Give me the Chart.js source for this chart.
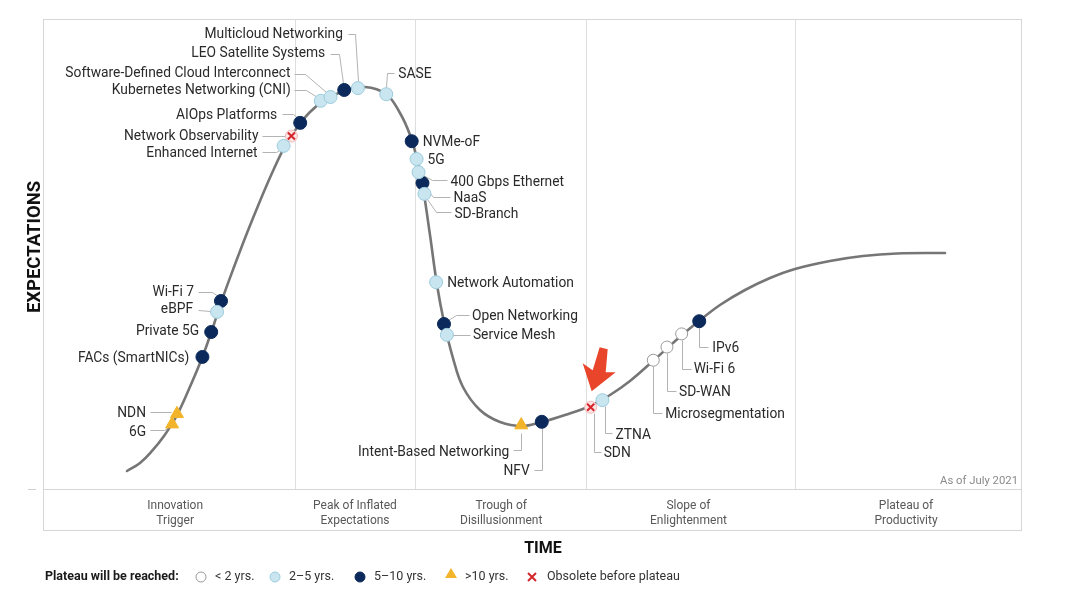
<!DOCTYPE html>
<html><head><meta charset="utf-8">
<script src="https://cdn.jsdelivr.net/npm/chart.js@4.4.1/dist/chart.umd.min.js"></script>
<style>html,body{margin:0;padding:0;background:#fff}canvas{display:block}</style>
</head><body>
<canvas id="c" width="1080" height="606"></canvas>
<script>
// ---- DATA (time / expectations units, 0-100) ----
const curveX = [8.59,9.92,11.15,12.37,13.60,14.93,16.26,17.28,18.30,19.53,20.86,22.19,23.42,24.64,25.87,27.30,28.83,30.78,32.92,35.07,36.50,37.53,38.24,38.85,39.57,40.29,41.00,41.92,42.94,44.68,46.73,48.98,51.02,53.37,55.93,57.98,60.02,62.37,65.34,67.08,69.22,71.78,74.34,76.89,80.47,83.84,87.32,92.23];
const curveY = [3.83,5.53,8.09,11.28,15.32,21.28,27.87,33.83,40.21,47.23,54.47,61.28,67.23,72.55,76.60,80.21,82.77,84.68,85.53,84.04,80.00,75.32,70.21,64.04,54.04,43.40,35.53,27.87,21.70,16.81,14.26,13.40,14.26,15.74,17.66,20.00,22.98,27.23,32.77,35.74,39.15,42.34,44.89,46.81,48.51,49.57,50.11,50.21];

const techNames = ['6G','NDN','FACs (SmartNICs)','Private 5G','eBPF','Wi-Fi 7','Enhanced Internet','Network Observability','AIOps Platforms','Kubernetes Networking (CNI)','Software-Defined Cloud Interconnect','LEO Satellite Systems','Multicloud Networking','SASE','NVMe-oF','5G','400 Gbps Ethernet','NaaS','SD-Branch','Network Automation','Open Networking','Service Mesh','Intent-Based Networking','NFV','SDN','ZTNA','Microsegmentation','SD-WAN','Wi-Fi 6','IPv6'];
const techX = [13.2,13.7,16.3,17.2,17.8,18.2,24.6,25.4,26.3,28.4,29.4,30.8,32.2,35.1,37.7,38.2,38.4,38.8,39.0,40.2,41.0,41.3,48.9,51.0,56.0,57.2,62.4,63.8,65.3,67.1];
const techY = [13.8,16.0,28.1,33.4,37.7,40.0,73.0,75.1,77.9,82.6,83.4,84.9,85.3,84.0,74.0,70.2,67.4,65.1,62.8,44.0,35.1,32.8,13.6,14.3,17.4,18.9,27.4,30.2,33.0,35.7];
// plateau category: 0 = <2 yrs, 1 = 2-5 yrs, 2 = 5-10 yrs, 3 = >10 yrs, 4 = obsolete
const techCat = [3,3,2,2,1,2,1,4,2,1,1,2,1,1,2,1,1,2,1,1,2,1,3,2,4,1,0,0,0,2];

const phaseNames = [['Innovation','Trigger'],['Peak of Inflated','Expectations'],['Trough of','Disillusionment'],['Slope of','Enlightenment'],['Plateau of','Productivity']];
const phaseBounds = [0,25.8,38.0,55.5,76.9,100];
const legendTitle = 'Plateau will be reached:';
const legendLabels = ['< 2 yrs.','2–5 yrs.','5–10 yrs.','>10 yrs.','Obsolete before plateau'];
const yTitle = 'EXPECTATIONS';
const xTitle = 'TIME';
const asOf = 'As of July 2021';

// ---- LAYOUT of labels (pixel offsets from each point) ----
const labelLayout = [
  {s:'R',t:[-26,8],l:[[-22,6],[-8,6],[-3,3]]},      // 6G
  {s:'R',t:[-31,0],l:[[-27,-2],[-6,-2]]},           // NDN
  {s:'R',t:[-13,2],l:[]},                            // FACs
  {s:'R',t:[-12,0],l:[]},                            // Private 5G
  {s:'R',t:[-24,-2],l:[[-19,-2],[-7,-1]]},          // eBPF
  {s:'R',t:[-27,-8],l:[[-23,-9],[-9,-9],[-3,-5]]},  // Wi-Fi 7
  {s:'R',t:[-26,8],l:[[-22,6],[-8,6],[-3,3]]},      // Enhanced Internet
  {s:'R',t:[-33,1],l:[[-29,0],[-6,0]]},             // Network Observability
  {s:'R',t:[-23,-7],l:[[-18,-9],[-7,-9],[-2,-5]]},  // AIOps
  {s:'R',t:[-30,-10],l:[[-27,-11],[-15,-11],[-4,-4]]}, // Kubernetes
  {s:'R',t:[-40,-23],l:[[-37,-23],[-26,-23],[-5,-5]]}, // SDCI
  {s:'R',t:[-19,-36],l:[[-14,-36],[-5,-36],[-1,-7]]}, // LEO
  {s:'R',t:[-15,-54],l:[[-10,-54],[-3,-54],[0,-7]]},   // Multicloud
  {s:'L',t:[12,-20],l:[[0,-7],[1,-21],[8,-21]]},       // SASE
  {s:'L',t:[11,1],l:[]},                              // NVMe-oF
  {s:'L',t:[11,1],l:[]},                              // 5G
  {s:'L',t:[32,10],l:[[4,3],[13,8],[28,8]]},          // 400G
  {s:'L',t:[31,16],l:[[3,4],[11,14],[28,14]]},        // NaaS
  {s:'L',t:[30,21],l:[[3,5],[12,18],[27,18]]},        // SD-Branch
  {s:'L',t:[11,1],l:[]},                              // Network Automation
  {s:'L',t:[28,-7],l:[[4,-4],[12,-9],[25,-9]]},       // Open Networking
  {s:'L',t:[26,1],l:[[5,0],[23,0]]},                  // Service Mesh
  {s:'R',t:[-12,27],l:[[-8,25],[0,25],[0,8]]},        // IBN
  {s:'R',t:[-12,50],l:[[-8,48],[0,48],[0,6]]},        // NFV
  {s:'L',t:[13,46],l:[[3,6],[3,45],[10,45]]},         // SDN
  {s:'L',t:[13,35],l:[[3,6],[3,33],[10,33]]},         // ZTNA
  {s:'L',t:[12,54],l:[[0,6],[0,53],[9,53]]},          // Microsegmentation
  {s:'L',t:[12,45],l:[[0,6],[0,44],[9,44]]},          // SD-WAN
  {s:'L',t:[12,36],l:[[0,6],[0,35],[9,35]]},          // Wi-Fi 6
  {s:'L',t:[13,27],l:[[0,6],[0,26],[9,26]]}           // IPv6
];
const phaseLabelShift = [6,0,1,-2,-2];
const arrowTarget = 'SDN';
const arrowShape = [[1,-16],[-8,-44],[2,-37],[9,-60],[17,-58],[15,-35],[25,-35]];

const FONT = 'Roboto, "Liberation Sans", Arial, sans-serif';
const catStyle = [
  {bg:'#ffffff', bd:'#9a9a9a', ps:'circle', r:6},
  {bg:'#c9e5f0', bd:'#9ccbdc', ps:'circle', r:6.5},
  {bg:'#0b2a5b', bd:'#0b2a5b', ps:'circle', r:6.5},
  {bg:'#f2b42a', bd:'#f2b42a', ps:'triangle', r:7.5},
];

function pts(cat){
  const o=[];
  techX.forEach((v,i)=>{ if(techCat[i]===cat) o.push({x:v,y:techY[i]}); });
  return o;
}

const datasets = [];
[0,1,2,3].forEach(c=>{
  datasets.push({type:'scatter', data:pts(c), pointStyle:catStyle[c].ps, pointRadius:catStyle[c].r,
    backgroundColor:catStyle[c].bg, borderColor:catStyle[c].bd, borderWidth:1, order:1});
});
datasets.push({type:'scatter', data:pts(4), pointStyle:'crossRot', pointRadius:5, borderColor:'#d3262c', borderWidth:2, backgroundColor:'#d3262c', order:0});
datasets.push({type:'scatter', data:pts(4), pointStyle:'circle', pointRadius:6, borderColor:'#f2b9b9', borderWidth:1, backgroundColor:'#fde4e4', order:2});
datasets.push({type:'line', data:curveX.map((v,i)=>({x:v,y:curveY[i]})), showLine:true, pointRadius:0,
  borderColor:'#767676', borderWidth:2.6, tension:0.4, fill:false, order:10});

const hype = {
  id:'hype',
  beforeDatasetsDraw(chart){
    const {ctx, chartArea:a, scales:{x,y}} = chart;
    const bandBottom = a.bottom + 41;
    ctx.save();
    ctx.strokeStyle='#d6d6d6'; ctx.lineWidth=1;
    ctx.strokeRect(a.left+0.5, a.top+0.5, a.right-a.left, bandBottom-a.top);
    ctx.beginPath(); ctx.moveTo(a.left, a.bottom+0.5); ctx.lineTo(a.right, a.bottom+0.5); ctx.stroke();
    ctx.strokeStyle='#dedede';
    phaseBounds.slice(1,-1).forEach(b=>{
      const px=Math.round(x.getPixelForValue(b))+0.5;
      ctx.beginPath(); ctx.moveTo(px,a.top); ctx.lineTo(px,a.bottom); ctx.stroke();
    });
    ctx.strokeStyle='#cfcfcf';
    ctx.beginPath(); ctx.moveTo(a.left-15,a.bottom+0.5); ctx.lineTo(a.left-7,a.bottom+0.5); ctx.stroke();
    // leaders
    ctx.strokeStyle='#b3b3b3'; ctx.lineWidth=1;
    techNames.forEach((n,i)=>{
      const L=labelLayout[i]; if(!L.l.length) return;
      const px=x.getPixelForValue(techX[i]), py=y.getPixelForValue(techY[i]);
      ctx.beginPath();
      L.l.forEach((p,k)=>{ const X=Math.round(px+p[0])+0.5, Y=Math.round(py+p[1])+0.5; k?ctx.lineTo(X,Y):ctx.moveTo(X,Y); });
      ctx.stroke();
    });
    ctx.restore();
  },
  afterDatasetsDraw(chart){
    const {ctx, chartArea:a, scales:{x,y}} = chart;
    ctx.save();
    ctx.font='13.8px '+FONT; ctx.fillStyle='#2a2a2a'; ctx.textBaseline='middle';
    techNames.forEach((n,i)=>{
      const L=labelLayout[i];
      const px=x.getPixelForValue(techX[i]), py=y.getPixelForValue(techY[i]);
      ctx.textAlign = L.s==='R' ? 'right' : 'left';
      ctx.fillText(n, px+L.t[0], py+L.t[1]);
    });
    // arrow annotation
    const ai=techNames.indexOf(arrowTarget);
    const ax=x.getPixelForValue(techX[ai]), ay=y.getPixelForValue(techY[ai]);
    ctx.fillStyle='#e8452a';
    ctx.beginPath();
    arrowShape.forEach((p,k)=>{ k?ctx.lineTo(ax+p[0],ay+p[1]):ctx.moveTo(ax+p[0],ay+p[1]); });
    ctx.closePath(); ctx.fill();
    // as of
    ctx.font='11.3px '+FONT; ctx.fillStyle='#8a8a8a'; ctx.textAlign='right'; ctx.textBaseline='middle';
    ctx.fillText(asOf, a.right-3, a.bottom-8);
    // phase labels
    ctx.font='12px '+FONT; ctx.fillStyle='#585858'; ctx.textAlign='center';
    phaseNames.forEach((p,i)=>{
      const cx=(x.getPixelForValue(phaseBounds[i])+x.getPixelForValue(phaseBounds[i+1]))/2+phaseLabelShift[i];
      ctx.fillText(p[0], cx, a.bottom+17);
      ctx.fillText(p[1], cx, a.bottom+32);
    });
    // axis titles
    ctx.font='bold 16px '+FONT; ctx.fillStyle='#111';
    ctx.fillText(xTitle, 543, a.bottom+60);
    ctx.font='bold 18.5px '+FONT;
    ctx.save(); ctx.translate(a.left-8, 247); ctx.rotate(-Math.PI/2); ctx.fillText(yTitle,0,0); ctx.restore();
    // legend
    const ly=a.bottom+88;
    ctx.textAlign='left';
    ctx.font='bold 12.5px '+FONT; ctx.fillStyle='#1a1a1a';
    ctx.fillText(legendTitle, a.left+2, ly);
    ctx.font='12.5px '+FONT;
    const mx=[201,275,360,451,532];
    mx.forEach((m,i)=>{
      ctx.save();
      if(i<3){
        ctx.beginPath(); ctx.arc(m,ly,5,0,Math.PI*2);
        ctx.fillStyle=catStyle[i].bg; ctx.fill(); ctx.strokeStyle=catStyle[i].bd; ctx.lineWidth=1; ctx.stroke();
      } else if(i===3){
        ctx.beginPath(); ctx.moveTo(m,ly-9); ctx.lineTo(m+6,ly+1); ctx.lineTo(m-6,ly+1); ctx.closePath();
        ctx.fillStyle=catStyle[3].bg; ctx.fill();
      } else {
        ctx.strokeStyle='#d3262c'; ctx.lineWidth=2;
        ctx.beginPath(); ctx.moveTo(m-4,ly-4); ctx.lineTo(m+4,ly+4); ctx.moveTo(m+4,ly-4); ctx.lineTo(m-4,ly+4); ctx.stroke();
      }
      ctx.restore();
      ctx.fillStyle='#333';
      ctx.fillText(legendLabels[i], m+(i===4?15:14), ly);
    });
    ctx.restore();
  }
};

new Chart(document.getElementById('c'), {
  type:'scatter',
  data:{datasets},
  options:{
    responsive:false, devicePixelRatio:1, animation:false,
    layout:{padding:{left:43,right:59,top:19,bottom:117}},
    scales:{
      x:{type:'linear',min:0,max:100,display:false},
      y:{type:'linear',min:0,max:100,display:false}
    },
    plugins:{legend:{display:false},tooltip:{enabled:false}},
    elements:{line:{borderCapStyle:'round'}}
  },
  plugins:[hype]
});
</script>
</body></html>
